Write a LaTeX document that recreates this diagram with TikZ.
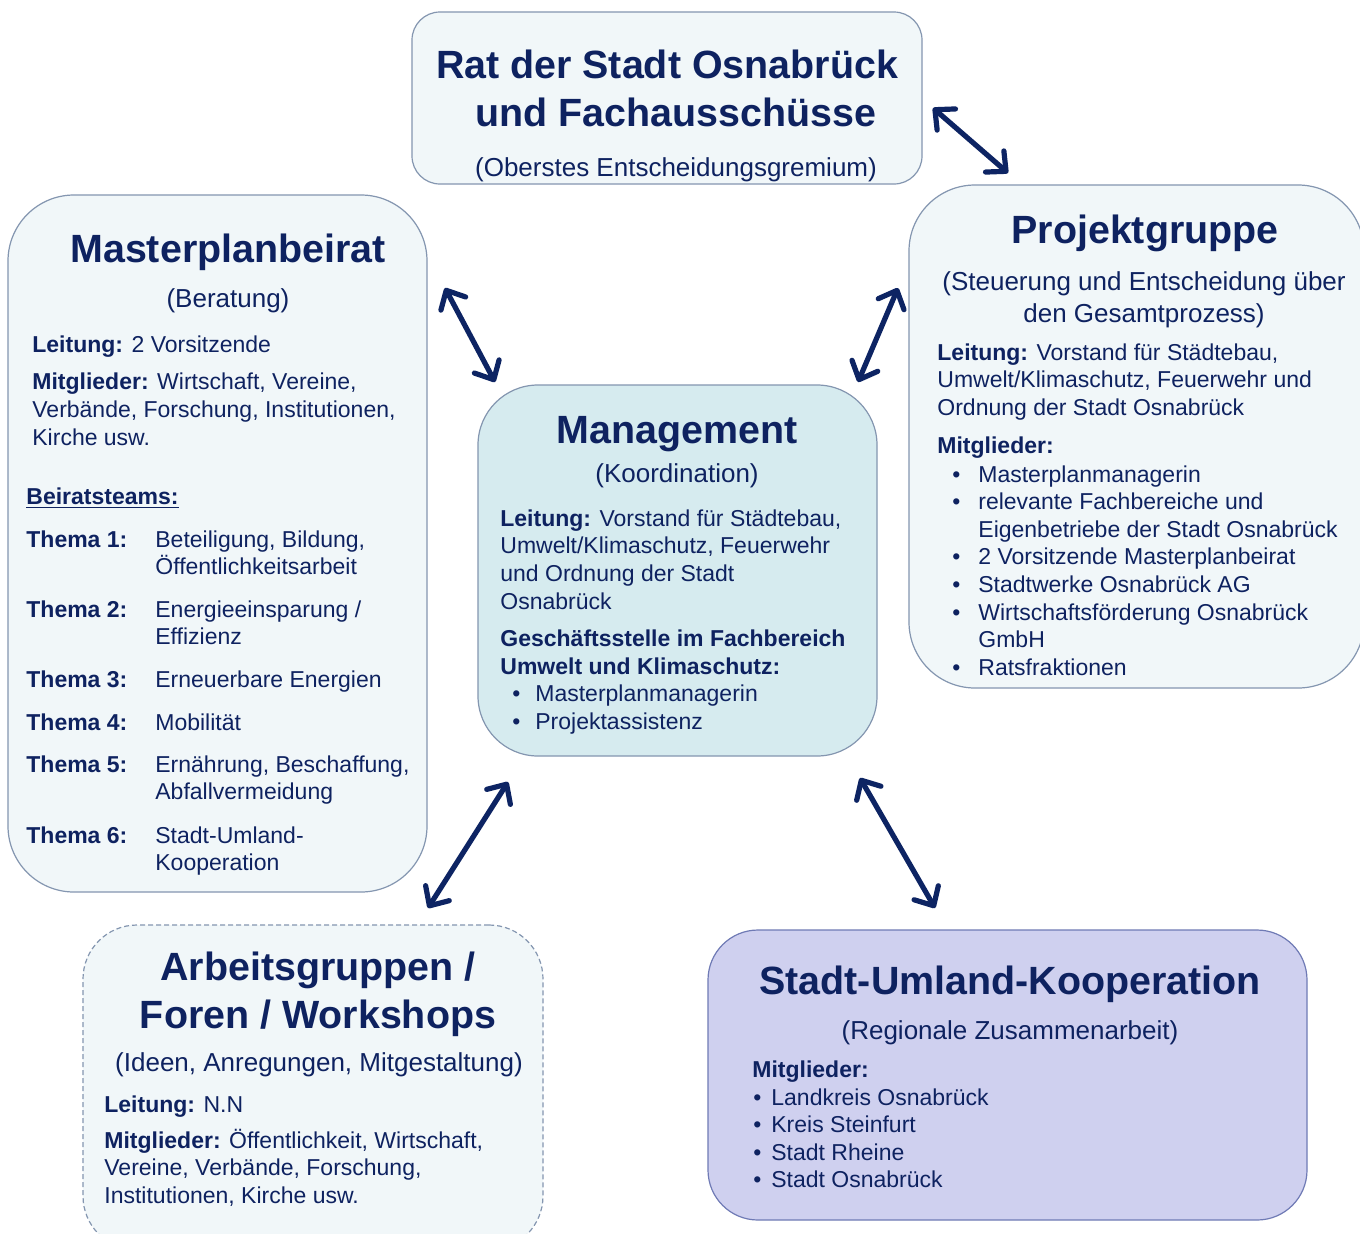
\documentclass[tikz,border=0pt]{standalone}
\usepackage{fontspec}
\setmainfont{Liberation Sans}
\usetikzlibrary{arrows.meta,positioning}
\definecolor{navy}{HTML}{0E2260}
\definecolor{arrowblue}{HTML}{0D2463}
\definecolor{boxfill}{HTML}{F1F7F9}
\definecolor{boxline}{HTML}{8496B0}
\definecolor{mgmtfill}{HTML}{D6EBEF}
\definecolor{regfill}{HTML}{CFD0EF}
\definecolor{regline}{HTML}{6F7AB5}

\begin{document}
\begin{tikzpicture}[x=0.5pt, y=-0.5pt,
    >={Straight Barb[length=7.5pt,width=14pt,round]},
    panel/.style={draw=boxline, fill=boxfill, line width=0.6pt, rounded corners=#1, inner sep=0pt},
    panel/.default=30pt,
    headline/.style={font=\bfseries\fontsize{19.7}{24}\selectfont, text=navy, align=center, inner sep=0pt, anchor=base},
    subline/.style={font=\fontsize{13}{16}\selectfont, text=navy, align=center, inner sep=0pt, anchor=base},
    bodytext/.style={font=\fontsize{11.5}{13.8}\selectfont, text=navy, align=left, inner sep=0pt, anchor=base west},
    link/.style={draw=arrowblue, line width=2.6pt, <->}]
  \useasboundingbox (0,0) rectangle (1360,1233);
  \clip (0,0) rectangle (1360,1233);
  \fill[white] (0,0) rectangle (1360,1233);

  % boxes
  \node[panel=14pt, minimum width=255pt, minimum height=86pt] (rat) at (667,98) {};
  \node[panel=33pt, minimum width=209.5pt, minimum height=348.5pt] (beirat) at (217.5,543.5) {};
  \node[panel=33pt, minimum width=227.5pt, minimum height=251.5pt] (projekt) at (1136.5,436.5) {};
  \node[panel=30pt, fill=mgmtfill, minimum width=199.5pt, minimum height=185.5pt] (mgmt) at (677.5,570.5) {};
  \node[panel=27pt, dash pattern=on 2.5pt off 1.5pt, minimum width=230pt, minimum height=162.5pt] (arbeit) at (313,1087.5) {};
  \node[panel=25pt, fill=regfill, draw=regline, minimum width=299.5pt, minimum height=145pt] (region) at (1007.5,1075) {};

  % Rat der Stadt (multi-line nodes sit on their last baseline)
  \node[headline] (rat-title) at (667,126) {Rat der Stadt Osnabrück\\\hspace*{9pt}und Fachausschüsse};
  \node[subline] (rat-sub) at (676,176) {(Oberstes Entscheidungsgremium)};

  % Masterplanbeirat
  \node[headline] (beirat-title) at (228,262) {Masterplanbeirat};
  \node[subline] (beirat-sub) at (228,307) {(Beratung)};
  \node[bodytext] (beirat-lead) at (32,352) {\textbf{Leitung:} 2 Vorsitzende};
  \node[bodytext] (beirat-members) at (32,445) {\textbf{Mitglieder:} Wirtschaft, Vereine,\\Verbände, Forschung, Institutionen,\\Kirche usw.};
  \node[bodytext] (beirat-teams) at (26,504) {\textbf{\underline{Beiratsteams:}}};
  \node[bodytext] (thema-1) at (26,547) {\textbf{Thema 1:}};
  \node[bodytext] (topic-1) at (155,574.6) {Beteiligung, Bildung,\\Öffentlichkeitsarbeit};
  \node[bodytext] (thema-2) at (26,617) {\textbf{Thema 2:}};
  \node[bodytext] (topic-2) at (155,644.6) {Energieeinsparung /\\Effizienz};
  \node[bodytext] (thema-3) at (26,687) {\textbf{Thema 3:}};
  \node[bodytext] (topic-3) at (155,687) {Erneuerbare Energien};
  \node[bodytext] (thema-4) at (26,730) {\textbf{Thema 4:}};
  \node[bodytext] (topic-4) at (155,730) {Mobilität};
  \node[bodytext] (thema-5) at (26,772) {\textbf{Thema 5:}};
  \node[bodytext] (topic-5) at (155,799.6) {Ernährung, Beschaffung,\\Abfallvermeidung};
  \node[bodytext] (thema-6) at (26,843) {\textbf{Thema 6:}};
  \node[bodytext] (topic-6) at (155,870.6) {Stadt-Umland-\\Kooperation};

  % Projektgruppe
  \node[headline] (projekt-title) at (1145,243) {Projektgruppe};
  \node[subline] (projekt-sub) at (1144,322) {(Steuerung und Entscheidung über\\den Gesamtprozess)};
  \node[bodytext] (projekt-lead) at (937,415.2) {\textbf{Leitung:} Vorstand für Städtebau,\\Umwelt/Klimaschutz, Feuerwehr und\\Ordnung der Stadt Osnabrück};
  \node[bodytext] (projekt-members) at (937,453) {\textbf{Mitglieder:}};
  \node[bodytext] (projekt-list) at (978,675.2) {\llap{\textbullet\hspace{9pt}}Masterplanmanagerin\\
    \llap{\textbullet\hspace{9pt}}relevante Fachbereiche und\\
    Eigenbetriebe der Stadt Osnabrück\\
    \llap{\textbullet\hspace{9pt}}2 Vorsitzende Masterplanbeirat\\
    \llap{\textbullet\hspace{9pt}}Stadtwerke Osnabrück AG\\
    \llap{\textbullet\hspace{9pt}}Wirtschaftsförderung Osnabrück\\
    GmbH\\
    \llap{\textbullet\hspace{9pt}}Ratsfraktionen};

  % Management
  \node[headline] (mgmt-title) at (677,443) {Management};
  \node[subline] (mgmt-sub) at (677,482) {(Koordination)};
  \node[bodytext] (mgmt-lead) at (500,609) {\textbf{Leitung:} Vorstand für Städtebau,\\Umwelt/Klimaschutz, Feuerwehr\\und Ordnung der Stadt\\Osnabrück};
  \node[bodytext] (mgmt-office) at (500,674) {\textbf{Geschäftsstelle im Fachbereich}\\\textbf{Umwelt und Klimaschutz:}};
  \node[bodytext] (mgmt-list) at (535,729) {\llap{\textbullet\hspace{7.5pt}}Masterplanmanagerin\\
    \llap{\textbullet\hspace{7.5pt}}Projektassistenz};

  % Arbeitsgruppen
  \node[headline] (arbeit-title) at (318,1028) {Arbeitsgruppen /\\Foren / Workshops};
  \node[subline] (arbeit-sub) at (319,1071) {(Ideen, Anregungen, Mitgestaltung)};
  \node[bodytext] (arbeit-lead) at (104,1112) {\textbf{Leitung:} N.N};
  \node[bodytext] (arbeit-members) at (104,1203.2) {\textbf{Mitglieder:} Öffentlichkeit, Wirtschaft,\\Vereine, Verbände, Forschung,\\Institutionen, Kirche usw.};

  % Stadt-Umland-Kooperation
  \node[headline] (region-title) at (1010,994) {Stadt-Umland-Kooperation};
  \node[subline] (region-sub) at (1010,1039) {(Regionale Zusammenarbeit)};
  \node[bodytext] (region-members) at (752,1077) {\textbf{Mitglieder:}};
  \node[bodytext] (region-list) at (771,1187.8) {\llap{\textbullet\hspace{5pt}}Landkreis Osnabrück\\
    \llap{\textbullet\hspace{5pt}}Kreis Steinfurt\\
    \llap{\textbullet\hspace{5pt}}Stadt Rheine\\
    \llap{\textbullet\hspace{5pt}}Stadt Osnabrück};

  % connectors
  \coordinate (rat-end) at (933,108);
  \coordinate (projekt-top) at (1008,173);
  \coordinate (beirat-end) at (445,288);
  \coordinate (mgmt-nw) at (495,382);
  \coordinate (projekt-end) at (898,288);
  \coordinate (mgmt-ne) at (858,382);
  \coordinate (mgmt-sw) at (508,782);
  \coordinate (arbeit-end) at (428,908);
  \coordinate (mgmt-se) at (860,778);
  \coordinate (region-end) at (935,908);
  \draw[link] (rat-end) -- (projekt-top);
  \draw[link] (beirat-end) -- (mgmt-nw);
  \draw[link] (projekt-end) -- (mgmt-ne);
  \draw[link] (mgmt-sw) -- (arbeit-end);
  \draw[link] (mgmt-se) -- (region-end);
\end{tikzpicture}
\end{document}
